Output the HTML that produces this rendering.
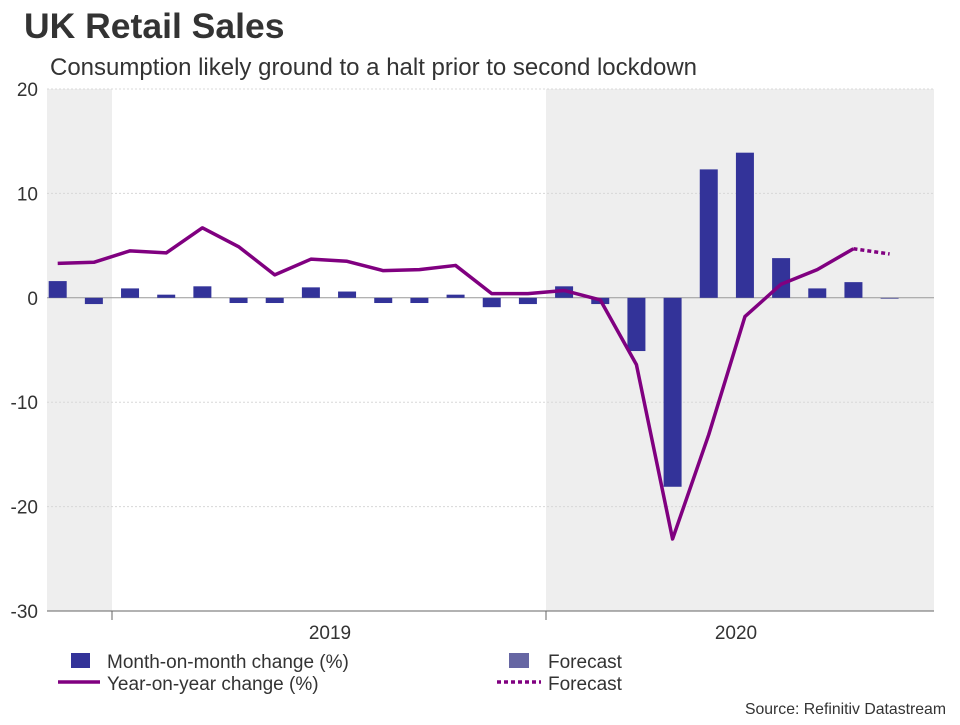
<!DOCTYPE html>
<html><head><meta charset="utf-8"><style>
body{margin:0;background:#fff;font-family:"Liberation Sans",Arial,sans-serif}
svg text{font-family:"Liberation Sans",Arial,sans-serif}
</style></head><body>
<svg width="960" height="720" viewBox="0 0 960 720">
<text x="24" y="38" font-size="35.5" font-weight="bold" fill="#333">UK Retail Sales</text>
<text x="50" y="75" font-size="24" fill="#333">Consumption likely ground to a halt prior to second lockdown</text>
<g id="plot"></g>
<g>
<rect x="71" y="653" width="19" height="15" fill="#333399"/>
<text x="107" y="668" font-size="19" fill="#333">Month-on-month change (%)</text>
<rect x="509" y="653" width="20" height="15" fill="#6666a3"/>
<text x="548" y="668" font-size="19" fill="#333">Forecast</text>
<line x1="58" y1="682" x2="100" y2="682" stroke="#800080" stroke-width="3.5"/>
<text x="107" y="690" font-size="19" fill="#333">Year-on-year change (%)</text>
<line x1="497" y1="682" x2="541" y2="682" stroke="#800080" stroke-width="3.5" stroke-dasharray="4,3"/>
<text x="548" y="690" font-size="19" fill="#333">Forecast</text>
</g>
<text x="946" y="714" font-size="15.8" fill="#333" text-anchor="end">Source: Refinitiv Datastream</text>
</svg>
<script>
const months=["Nov18","Dec18","Jan19","Feb19","Mar19","Apr19","May19","Jun19","Jul19","Aug19","Sep19","Oct19","Nov19","Dec19","Jan20","Feb20","Mar20","Apr20","May20","Jun20","Jul20","Aug20","Sep20","Oct20"];
const momValues=[1.6,-0.6,0.9,0.3,1.1,-0.5,-0.5,1.0,0.6,-0.5,-0.5,0.3,-0.9,-0.6,1.1,-0.6,-5.1,-18.1,12.3,13.9,3.8,0.9,1.5,-0.1];
const yoyValues=[3.3,3.4,4.5,4.3,6.7,4.9,2.2,3.7,3.5,2.6,2.7,3.1,0.4,0.4,0.7,-0.2,-6.4,-23.1,-13.1,-1.8,1.3,2.7,4.7,4.2];
const forecastIndex=23;
const yTicks=[20,10,0,-10,-20,-30];
const yearLabels=["2019","2020"];

const NS="http://www.w3.org/2000/svg";
const g=document.getElementById('plot');
const L=47,R=934,T=89,B=611;
const y=v=>T+(20-v)*(B-T)/50;
const x=i=>57.7+i*36.17;
function mk(t,a){const e=document.createElementNS(NS,t);for(const k in a)e.setAttribute(k,a[k]);g.appendChild(e);return e;}
let s=mk('rect',{x:L,y:T,width:112-L,height:B-T,fill:'#eeeeee'});


s=mk('rect',{x:546,y:T,width:R-546,height:B-T,fill:'#eeeeee'});


yTicks.forEach(v=>{
 const l=mk('line',{x1:L,x2:R,y1:y(v),y2:y(v),stroke:v===0?'#999':'#d8d8d8','stroke-width':1,'stroke-dasharray':v===0?'':'2,2'});
 
 
 const t=mk('text',{x:38,y:y(v)+7,'font-size':19,fill:'#333','text-anchor':'end'});
 t.textContent=v;
 
 
});
momValues.forEach((v,i)=>{
 const b=mk('rect',{x:x(i)-9,y:Math.min(y(v),y(0)),width:18,height:Math.max(Math.abs(y(v)-y(0)),1),fill:i===forecastIndex?'#6666a3':'#333399'});
 
 
});
let p=yoyValues.slice(0,forecastIndex).map((v,i)=>x(i)+','+y(v)).join(' ');
let pl=mk('polyline',{points:p,fill:'none',stroke:'#800080','stroke-width':3.5,'stroke-linejoin':'round'});


pl=mk('polyline',{points:x(forecastIndex-1)+','+y(yoyValues[forecastIndex-1])+' '+x(forecastIndex)+','+y(yoyValues[forecastIndex]),fill:'none',stroke:'#800080','stroke-width':3.5,'stroke-dasharray':'4,3'});


let ax=mk('line',{x1:L,x2:R,y1:B,y2:B,stroke:'#666','stroke-width':1});


[112,546].forEach(px=>{const t=mk('line',{x1:px,x2:px,y1:B,y2:B+9,stroke:'#666'});
 
 });
yearLabels.forEach((lab,k)=>{
 const t=mk('text',{x:k===0?330:736,y:639,'font-size':19,fill:'#333','text-anchor':'middle'});
 t.textContent=lab;
 
 
});
</script>
</body></html>
